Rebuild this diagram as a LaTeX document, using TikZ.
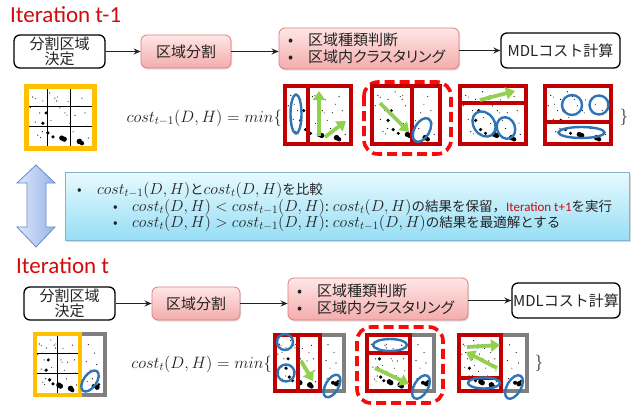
\RequirePackage{fix-cm}
\documentclass[tikz,border=0pt]{standalone}
\usepackage{fontspec}
\setmainfont{Noto Sans CJK JP}
\newfontfamily\lat{Carlito}
\usetikzlibrary{arrows.meta,shadows}
\definecolor{itred}{RGB}{210,10,10}
\definecolor{pinktop}{RGB}{255,230,230}
\definecolor{pinkbot}{RGB}{244,172,172}
\definecolor{pinkedge}{RGB}{225,125,125}
\definecolor{dred}{RGB}{192,0,0}
\definecolor{selred}{RGB}{250,10,10}
\definecolor{cblue}{RGB}{46,117,182}
\definecolor{cgreen}{RGB}{146,208,80}
\definecolor{ygold}{RGB}{255,192,0}
\definecolor{fgray}{RGB}{127,127,127}
\definecolor{cyantop}{RGB}{232,250,255}
\definecolor{cyanbot}{RGB}{150,222,245}
\definecolor{cyanedge}{RGB}{130,180,205}
\definecolor{arrl}{RGB}{222,232,252}
\definecolor{arrr}{RGB}{150,180,232}
\definecolor{arredge}{RGB}{100,140,200}
\definecolor{txt}{RGB}{35,35,35}
\def\mainpts{0.27/0.42/1.7, 0.22/0.60/1.8, 0.30/0.77/1.8, 0.38/0.84/1.7, 0.52/0.86/2.6, 0.56/0.88/2.6, 0.80/0.92/2.8, 0.84/0.95/2.2, 0.06/0.14/0.6, 0.10/0.17/0.5, 0.22/0.21/0.6, 0.41/0.16/0.6, 0.45/0.14/0.5, 0.44/0.21/0.6, 0.84/0.16/0.6, 0.17/0.42/0.6, 0.49/0.33/0.6, 0.57/0.42/0.6, 0.60/0.46/0.5, 0.73/0.46/0.6, 0.89/0.42/0.6, 0.10/0.58/0.6, 0.21/0.75/0.6, 0.14/0.81/0.6, 0.18/0.85/0.5, 0.70/0.75/0.6, 0.94/0.86/0.6, 0.33/0.07/0.6, 0.02/0.33/0.6, 0.65/0.60/0.5, 0.35/0.55/0.5, 0.92/0.65/0.5, 0.12/0.30/0.5, 0.62/0.22/0.5, 0.78/0.30/0.5, 0.46/0.66/0.5}
\def\graypts{0.3/0.15/0.6, 0.6/0.3/0.6, 0.2/0.45/0.6, 0.7/0.5/0.6, 0.4/0.6/0.5, 0.5/0.75/0.6, 0.25/0.8/0.6, 0.55/0.88/2.0, 0.72/0.9/2.6, 0.8/0.85/1.5}
\newcommand\scatmain[4]{\foreach \px/\py/\pr in \mainpts {\fill ({#1+\px*#3},{#2+\py*#4}) circle (\pr);}}
\newcommand\scatgray[4]{\foreach \px/\py/\pr in \graypts {\fill ({#1+\px*#3},{#2+\py*#4}) circle (\pr);}}
\newcommand\mth[1]{{\fontsize{16}{16}\selectfont$#1$}}
\tikzset{
  wbox/.style={draw=black, line width=1.3pt, rounded corners=6pt, fill=white, align=center, text=txt, inner sep=0pt, font=\fontsize{15}{15}\selectfont},
  pbox/.style={draw=pinkedge, line width=0.8pt, rounded corners=6pt, top color=pinktop, bottom color=pinkbot, align=center, text=txt, inner sep=0pt, font=\fontsize{15}{15}\selectfont, drop shadow={shadow xshift=1pt, shadow yshift=-1.5pt, opacity=0.25}},
  conn/.style={-{Stealth[length=7pt,width=6pt]}, line width=1.2pt, draw=txt},
  lab/.style={anchor=base west, inner sep=0pt, text=txt, font=\fontsize{15}{15}\selectfont},
  ctext/.style={anchor=base west, inner sep=0pt, text=txt, font=\fontsize{13.5}{16}\selectfont},
  itlab/.style={anchor=base west, inner sep=0pt, text=itred, font=\lat\fontsize{23}{23}\selectfont},
  form/.style={inner sep=0pt, text=txt, font=\fontsize{16.5}{18}\selectfont},
  rframe/.style={draw=dred, line width=3.6pt, fill=white},
  gframe/.style={draw=fgray, line width=3.6pt, fill=white},
  yframe/.style={draw=ygold, line width=4.5pt},
  divr/.style={draw=dred, line width=3.6pt},
  gline/.style={draw=black, line width=0.8pt},
  clus/.style={draw=cblue, line width=2.4pt},
  garr/.style={draw=cgreen, line width=3.8pt, -{Triangle[length=9pt,width=12pt]}},
  sel/.style={draw=selred, line width=3.6pt, dash pattern=on 10pt off 5pt, rounded corners=14pt}
}
\begin{document}
\begin{tikzpicture}[x=1pt,y=-1pt]
\useasboundingbox (0,0) rectangle (634,407);
\fill[white] (0,0) rectangle (634,407);

% ---------------- Iteration t-1 ----------------
\node[itlab] (it1) at (10,22) {Iteration t-1};
\node[wbox, minimum width=91pt, minimum height=33pt] (a1) at (59.5,51.5) {分割区域\\決定};
\node[pbox, minimum width=90pt, minimum height=33pt] (a2) at (186,51.5) {区域分割};
\node[pbox, minimum width=180pt, minimum height=41pt] (a3) at (369,48.5) {};
\node[lab] (a3b1) at (288,45) {•};
\node[lab] (a3t1) at (308,45) {区域種類判断};
\node[lab] (a3b2) at (288,62) {•};
\node[lab] (a3t2) at (308,62) {\addfontfeature{RawFeature=+palt}区域内クラスタリング};
\node[wbox, minimum width=119pt, minimum height=35pt] (a4) at (560.5,50.5) {MDLコスト計算};
\draw[conn] (a1.east) -- (a2.west);
\draw[conn] (a2.east) -- (a2.east -| a3.west);
\draw[conn] (a3.east |- a4.west) -- (a4.west);

% grid t-1
\fill[white] (26.5,86.5) rectangle (94.5,148.5);
\scatmain{29}{89}{63}{57}
\draw[gline] (47,86.5) -- (47,148.5) (70,86.5) -- (70,148.5) (26.5,106) -- (94.5,106) (26.5,126) -- (94.5,126);
\draw[yframe] (26.5,86.5) rectangle (94.5,148.5);

\node[form, anchor=east] (f1) at (282,118) {$cost_{t-1}(D,H)=min\{$};

% candidate 1
\draw[rframe] (285,86) rectangle (351,144);
\scatmain{287}{88}{62}{54}
\draw[divr] (308,86) -- (308,144);
\draw[rframe, fill=none] (285,86) rectangle (351,144);
\draw[clus] (296,114) ellipse (5.5 and 19.5);
\draw[garr] (319,136) -- (319,91);
\draw[garr] (325,137) -- (346,121);

% candidate 2 (selected)
\draw[sel] (364,82) rectangle (451,154);
\draw[rframe] (372,86) rectangle (440,144);
\scatmain{374}{88}{64}{54}
\draw[divr] (412,86) -- (412,144);
\draw[rframe, fill=none] (372,86) rectangle (440,144);
\draw[garr] (380,103) -- (409,132);
\draw[clus, rotate around={60:(422,130)}] (422,130) ellipse (13 and 7.5);

% candidate 3
\draw[rframe] (460,86) rectangle (526,144);
\scatmain{462}{88}{62}{54}
\draw[divr] (460,103) -- (526,103);
\draw[rframe, fill=none] (460,86) rectangle (526,144);
\draw[garr] (480,100) -- (515,91);
\draw[clus, rotate around={-55:(484,124)}] (484,124) ellipse (13.5 and 10.5);
\draw[clus, rotate around={-70:(506,128)}] (506,128) ellipse (11 and 9);

% candidate 4
\draw[rframe] (545,86) rectangle (611,144);
\scatmain{547}{88}{62}{54}
\draw[divr] (545,122) -- (611,122);
\draw[rframe, fill=none] (545,86) rectangle (611,144);
\draw[clus] (572,105) circle (10);
\draw[clus] (599,105) circle (9.5);
\draw[clus] (581.5,132.5) ellipse (23 and 5.5);

\node[form] (c1) at (624,117) {$\}$};

% ---------------- comparison ----------------
\path[left color=arrl, right color=arrr, draw=arredge, line width=0.8pt]
  (36,165) -- (55,183) -- (46,183) -- (46,227) -- (55,227) -- (36,247) -- (17,227) -- (27,227) -- (27,183) -- (17,183) -- cycle;
\node[draw=cyanedge, line width=0.8pt, top color=cyantop, bottom color=cyanbot, minimum width=564pt, minimum height=68pt, inner sep=0pt,
  drop shadow={shadow xshift=2pt, shadow yshift=-2pt, opacity=0.3}] (cmp) at (347,206) {};
\node[ctext] (cb1) at (77,194) {•};
\node[ctext] (ct1) at (97,194) {\mth{cost_{t-1}(D,H)}と\mth{cost_t(D,H)}を比較};
\node[ctext] (cb2) at (113,211) {•};
\node[ctext] (ct2) at (132,211) {\mth{cost_t(D,H)<cost_{t-1}(D,H)}: \mth{cost_t(D,H)}の結果を保留，{\lat\fontsize{13}{16}\selectfont\color{itred}Iteration t+1}を実行};
\node[ctext] (cb3) at (113,227) {•};
\node[ctext] (ct3) at (132,227) {\mth{cost_t(D,H)>cost_{t-1}(D,H)}: \mth{cost_{t-1}(D,H)}の結果を最適解とする};

% ---------------- Iteration t ----------------
\node[itlab] (it2) at (16,273) {Iteration t};
\node[wbox, minimum width=91pt, minimum height=33pt] (b1) at (69.5,303.5) {分割区域\\決定};
\node[pbox, minimum width=88pt, minimum height=33pt] (b2) at (196,303.5) {区域分割};
\node[pbox, minimum width=180pt, minimum height=42pt] (b3) at (378,299) {};
\node[lab] (b3b1) at (297,296) {•};
\node[lab] (b3t1) at (317,296) {区域種類判断};
\node[lab] (b3b2) at (297,313) {•};
\node[lab] (b3t2) at (317,313) {\addfontfeature{RawFeature=+palt}区域内クラスタリング};
\node[wbox, minimum width=108pt, minimum height=35pt] (b4) at (566,300.5) {MDLコスト計算};
\draw[conn] (b1.east) -- (b2.west);
\draw[conn] (b2.east) -- (b2.east -| b3.west);
\draw[conn] (b3.east |- b4.west) -- (b4.west);

% grid t
\draw[gframe] (80,334) rectangle (105,395);
\scatgray{82}{336}{21}{57}
\fill[white] (35,334) rectangle (80,395);
\scatmain{37}{336}{42}{57}
\draw[gline] (57,334) -- (57,395) (35,353) -- (80,353) (35,373) -- (80,373);
\draw[yframe] (35,334) rectangle (80,395);
\draw[clus, rotate around={55:(90,381)}] (90,381) ellipse (12 and 6.5);

\node[form, anchor=east] (f2) at (272,364) {$cost_t(D,H)=min\{$};

% candidate 1
\draw[gframe] (320,335) rectangle (344,391);
\scatgray{322}{337}{20}{52}
\draw[rframe] (275,335) rectangle (320,391);
\scatmain{277}{337}{41}{52}
\draw[divr] (298,335) -- (298,391);
\draw[rframe, fill=none] (275,335) rectangle (320,391);
\draw[clus] (285,342) circle (8);
\draw[clus] (286,373) circle (8.5);
\draw[garr] (301,361) -- (313,381);
\draw[clus, rotate around={60:(332,386)}] (332,386) ellipse (12.5 and 6.5);

% candidate 2 (selected)
\draw[sel] (357,327) rectangle (443,403);
\draw[gframe] (410,335) rectangle (434,391);
\scatgray{412}{337}{20}{52}
\draw[rframe] (367,335) rectangle (410,391);
\scatmain{369}{337}{39}{52}
\draw[divr] (367,353) -- (410,353);
\draw[rframe, fill=none] (367,335) rectangle (410,391);
\draw[clus] (390,345) ellipse (17 and 6);
\draw[garr] (375,368) -- (409,384);
\draw[clus, rotate around={60:(421,387)}] (421,387) ellipse (13 and 7);

% candidate 3
\draw[gframe] (501,335) rectangle (527,391);
\scatgray{503}{337}{22}{52}
\draw[rframe] (459,335) rectangle (501,391);
\scatmain{461}{337}{38}{52}
\draw[divr] (459,378) -- (501,378);
\draw[rframe, fill=none] (459,335) rectangle (501,391);
\draw[garr] (467,347) -- (500,345);
\draw[garr] (497,368) -- (466,352);
\draw[clus] (484,383) ellipse (16 and 5.5);
\draw[clus, rotate around={60:(514,387)}] (514,387) ellipse (13 and 7);

\node[form] (c2) at (539,363) {$\}$};
\end{tikzpicture}
\end{document}
